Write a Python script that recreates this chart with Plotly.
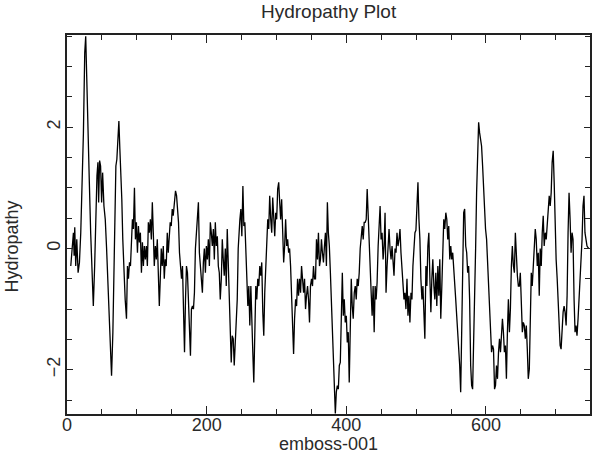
import plotly.graph_objects as go

# Residue positions and hydropathy values
residue = [
    5.4, 7.3, 9.2, 10.2, 11.1, 12.5, 14.0, 15.9, 17.8, 19.7, 21.6, 23.5, 25.4, 26.8, 28.2, 30.1, 32.0, 33.9, 35.8, 37.7,
    39.6, 41.5, 42.9, 44.3, 45.3, 46.7, 48.1, 49.6, 51.0, 52.9, 54.8, 56.7, 58.6, 60.5, 62.4, 63.8, 65.7, 67.1, 68.6, 70.0,
    71.4, 72.8, 74.3, 75.7, 77.1, 78.5, 79.9, 81.4, 83.3, 85.2, 86.6, 88.0, 89.5, 90.9, 92.3, 93.7, 95.1, 96.6, 98.0, 99.4,
    100.9, 102.3, 103.7, 105.1, 106.6, 108.0, 109.4, 110.8, 112.2, 113.7, 115.1, 116.5, 117.9, 119.4, 120.8, 122.2,
    123.6, 125.0, 126.5, 127.9, 129.3, 130.7, 132.2, 133.6, 135.0, 136.4, 137.9, 139.3, 140.7, 142.1, 143.6, 145.0,
    146.4, 147.8, 149.3, 150.7, 152.1, 153.5, 155.4, 156.9, 158.3, 159.7, 161.1, 162.6, 164.0, 165.4, 166.8, 168.3,
    169.7, 171.1, 172.5, 174.0, 175.4, 176.8, 178.2, 179.7, 181.1, 182.5, 183.9, 185.4, 186.8, 188.2, 189.6, 191.1,
    192.5, 193.9, 195.3, 196.7, 198.2, 199.6, 201.0, 202.4, 203.9, 205.3, 206.7, 208.1, 209.6, 211.0, 212.4, 213.8,
    215.3, 216.7, 218.1, 219.5, 221.0, 222.4, 223.8, 225.2, 226.7, 228.1, 229.5, 230.9, 232.4, 233.8, 235.2, 236.6,
    238.1, 239.5, 240.9, 242.3, 243.8, 245.2, 246.6,
    247.6, 249.0, 250.4, 251.9, 253.3, 254.7, 256.1, 257.6, 259.0, 260.4, 261.8, 263.3, 264.7, 266.1, 267.5, 269.0,
    270.4, 271.8, 273.2, 274.7, 276.1, 277.5, 278.9, 280.4, 281.8, 283.2, 284.6, 286.1, 287.5, 288.9, 290.3, 291.8,
    293.2, 294.6, 296.0, 297.5, 298.9, 300.3, 301.7, 303.2, 304.6, 306.0, 307.4, 308.9, 310.3, 311.7, 313.1, 314.6,
    316.0, 317.4, 318.8, 320.2, 321.7, 323.1, 324.5, 325.9, 327.4, 328.8, 330.2, 331.6, 333.1, 334.5, 335.9, 337.3,
    338.8, 340.2, 341.6, 343.0, 344.5, 345.9, 347.3, 348.7, 350.2, 351.6, 353.0, 354.4, 355.9, 357.3, 358.7, 360.1,
    361.6, 363.0, 364.4, 365.8, 367.3, 368.7, 370.1, 371.5,
    372.9, 374.3, 375.7, 377.2, 378.6, 380.0, 381.4, 382.9, 384.3, 385.7, 387.1, 388.6, 390.0, 391.4, 392.8, 394.3,
    395.7, 397.1, 398.5, 400.0, 401.4, 402.8, 404.2, 405.7, 407.1, 408.5, 409.9, 411.4, 412.8, 414.2, 415.6, 417.1,
    418.5, 419.9, 421.3, 422.8, 424.2, 425.6, 427.0, 428.5, 429.9, 431.3, 432.7, 434.2, 435.6, 437.0, 438.4, 439.9,
    441.3, 442.7, 444.1, 445.6, 447.0, 448.4, 449.8, 451.2, 452.7, 454.1, 455.5, 456.9, 458.4, 459.8, 461.2, 462.6,
    464.1, 465.5, 466.9, 468.3, 469.8, 471.2, 472.6, 474.0, 475.5, 476.9, 478.3, 479.7, 481.2, 482.6, 484.0, 485.4,
    486.9, 488.3, 489.7, 491.1, 492.6, 494.0, 495.4, 496.8,
    498.3, 499.7, 501.1, 502.6, 504.0, 505.4, 506.8, 508.3, 509.7, 511.1, 512.5, 514.0, 515.4, 516.8, 518.2, 519.7,
    521.1, 522.5, 523.9, 525.4, 526.8, 528.2, 529.6, 531.1, 532.5, 533.9, 535.3, 536.8, 538.2, 539.6, 541.0, 542.5,
    543.9, 545.3, 546.7, 548.2, 549.6, 551.0, 552.4, 553.9, 555.3, 556.7, 558.1, 559.6, 561.0, 562.4, 563.8, 565.3,
    566.7, 568.1, 569.5, 571.0, 572.4, 573.8, 575.2, 576.6, 578.1, 579.5, 580.9, 582.3, 583.8, 585.2, 586.6, 588.0,
    589.5, 590.9, 592.3, 593.7, 595.2, 596.6, 598.0, 599.4, 600.9, 602.3, 603.7, 605.1, 606.6, 608.0, 609.4, 610.8,
    612.3, 613.7, 615.1, 616.5, 618.0, 619.4, 620.8, 622.2,
    623.6, 625.0, 626.4, 627.9, 629.3, 630.7, 632.1, 633.6, 635.0, 636.4, 637.8, 639.3, 640.7, 642.1, 643.5, 645.0,
    646.4, 647.8, 649.2, 650.7, 652.1, 653.5, 654.9, 656.4, 657.8, 659.2, 660.6, 662.1, 663.5, 664.9, 666.3, 667.8,
    669.2, 670.6, 672.0, 673.5, 674.9, 676.3, 677.7, 679.2, 680.6, 682.0, 683.4, 684.9, 686.3, 687.7, 689.1, 690.6,
    692.0, 693.4, 694.8, 696.3, 697.7, 699.1, 700.5, 702.0, 703.4, 704.8, 706.2, 707.6, 709.1, 710.5, 711.9, 713.3,
    714.8, 716.2, 717.6, 719.0, 720.5, 721.9, 723.3, 724.7, 726.2, 727.6, 729.0, 730.4, 731.9, 733.3, 734.7, 736.1,
    737.6, 739.0, 740.4, 741.8, 743.3, 744.7, 747.0,
]

hydropathy = [
    -0.29, 0.04, 0.26, -0.12, 0.35, -0.29, 0.15, -0.40, -0.23, 0.26, 0.98, 1.90, 3.23, 3.50, 2.85, 2.13, 1.09, 0.26, -0.29, -0.95,
    -0.29, 0.70, 1.20, 1.42, 0.76, 1.45, 1.36, 0.76, 1.25, 0.70, 0.48, 0.00, -0.56, -1.05, -1.49, -2.10, -1.38, -0.40, 0.54, 1.36,
    1.47, 1.75, 2.10, 1.64, 1.25, 0.81, 0.15, -0.40, -0.84, -1.16, -0.29, -0.50, -0.23, -0.29, 0.15, 0.48, 0.32, 1.00, 0.15, 0.43,
    -0.07, 0.37, 0.10, 0.26, -0.40, 0.10, -0.29, 0.04, -0.18, 0.04, -0.29, 0.43, 0.26, 0.48, 0.15, 0.76,
    0.26, -0.29, 0.04, -0.18, 0.15, -0.29, -0.95, -0.50, 0.00, -0.29, 0.04, -0.50, -0.18, -0.29, 0.26, -0.07,
    0.32, 0.43, 0.37, 0.65, 0.54, 0.76, 0.95, 0.87, 0.70, 0.43, -0.07, -0.29, -0.50, -0.29, -1.11, -1.71,
    -0.84, -0.29, -0.40, -0.84, -1.38, -1.77, -1.00, -0.95, -1.00, -0.73, 0.00, 0.26, 0.48, 0.76, -0.07, -0.29,
    -0.62, -0.73, -0.23, 0.00, -0.40, 0.04, -0.18, 0.15, -0.29, 0.43, 0.26, 0.04, 0.32, -0.18, 0.43, 0.04,
    0.20, -0.29, -0.40, -0.84, -0.50, 0.15, -0.18, -0.45, 0.00, -0.62, 0.32, -0.18, -0.62, -1.38, -1.88, -1.44,
    -1.49, -1.93, -1.49, -1.38, -0.84, 0.00, 0.48,
    0.48, 0.65, 0.20, 1.03, 0.37, 0.43, 0.04, -0.40, -0.95, -0.62, -1.27, -0.62, -1.38, -1.71, -2.21, -1.38,
    -0.62, -0.84, -0.50, -0.62, -0.29, -0.45, -0.23, -1.05, -1.44, -0.73, -0.29, 0.20, 0.48, 0.32, 0.87, 0.48,
    0.26, 0.84, 0.59, 0.20, 0.59, 0.48, 0.98, 1.09, 0.76, 0.48, 0.81, 0.15, -0.23, 0.04, 0.48, 0.04,
    0.15, -0.07, 0.00, -0.29, -0.95, -1.55, -1.74, -1.16, -0.84, -0.95, -0.50, -0.78, -0.50, -0.73, -0.29, -0.50,
    -0.73, -0.50, -1.00, -0.78, -0.62, -0.84, -1.22, -0.62, -0.50, -0.62, -0.29, -0.50, -0.50, 0.15, -0.18, 0.26,
    -0.29, -0.18, 0.15, -0.07, -0.23, 0.04, 0.26, -0.29,
    0.76, 0.26, 0.04, -0.40, -0.89, -1.05, -1.60, -2.10, -2.72, -2.37, -2.26, -2.32, -1.93, -1.88, -1.11, -0.40,
    -1.11, -0.84, -1.22, -1.11, -1.55, -1.38, -2.21, -1.38, -0.50, -0.95, -1.16, -0.73, -0.62, -0.84, -0.50, -0.62,
    -0.40, 0.00, 0.26, 0.37, 0.15, 0.43, 0.43, 0.48, 0.98, 0.48, 0.00, -0.29, -0.73, -1.11, -0.62, -1.38,
    -0.62, -0.84, -0.56, 0.04, 0.37, 0.70, 0.15, 0.26, -0.18, 0.04, 0.59, -0.73, -0.29, 0.15, 0.32, 0.00,
    -0.18, 0.04, -0.18, -0.45, 0.00, -0.07, 0.26, 0.04, 0.15, 0.32, -0.07, -0.40, -0.73, -0.84, -0.73, -1.00,
    -0.50, -1.11, -0.78, -1.22, -0.73, -0.84, -0.29, 0.00,
    0.26, 0.30, 0.75, 1.09, 0.48, 0.15, -0.50, -0.84, -0.62, -1.22, -1.49, -0.29, -0.62, 0.04, 0.26, -0.50,
    -1.05, -0.50, -0.18, -0.62, -0.84, -0.40, -0.95, -0.29, -0.78, -0.18, -1.16, -0.62, 0.04, 0.48, 0.32, 0.59,
    0.48, 0.15, 0.37, -0.18, 0.04, -0.18, -0.07, -0.29, -0.62, -0.84, -1.11, -1.38, -1.66, -1.93, -2.37, -1.38,
    -0.29, 0.59, 0.65, 0.04, -0.07, -0.40, -0.29, -0.84, -1.93, -2.26, -2.32, -1.71, -0.84, 0.00, 0.92, 1.58,
    2.08, 1.91, 1.74, 1.69, 1.36, 0.98, 0.48, 0.32, 0.15, -0.18, -0.62, -1.05, -1.38, -1.71, -1.60, -1.66,
    -2.32, -2.26, -1.93, -2.15, -1.71, -1.49, -1.71, -1.38,
    -1.16, -1.38, -1.71, -1.60, -2.15, -1.38, -0.84, -1.38, -1.00, -0.29, 0.04, -0.29, -0.40, 0.26, -0.18, -0.45,
    -0.62, -0.62, -0.40, -0.84, -1.38, -1.22, -1.27, -1.49, -1.27, -1.66, -2.15, -1.99, -1.11, -0.40, -0.62, -0.29,
    -0.07, 0.32, 0.15, -0.29, -0.07, -0.78, 0.00, -0.29, 0.26, 0.54, 0.04, 0.26, 0.15, 0.37, 0.59, 0.87,
    0.70, 0.92, 1.42, 1.61, 1.09, 0.26, -0.18, -0.50, -0.95, -1.27, -1.60, -1.66, -1.27, -1.05, -0.95, -1.05,
    -1.27, -0.78, 0.26, 0.92, 0.48, -0.07, 0.26, 0.15, -0.84, -1.38, -1.27, -1.44, -1.16, -0.84, -0.50, -0.23,
    0.15, 0.70, 0.87, 0.26, 0.15, 0.04, 0.00,
]

title_text = "Hydropathy Plot"
x_label = "emboss-001"
y_label = "Hydropathy"
x_range = [0, 749]
y_range = [-2.73, 3.52]

FONT = "Liberation Sans"
TXT = "#2a2a2a"

fig = go.Figure()
fig.add_trace(go.Scatter(
    x=residue, y=hydropathy, mode="lines",
    line=dict(color="black", width=1.3),
    hoverinfo="skip", showlegend=False,
))

axis_common = dict(
    showgrid=False, zeroline=False,
    showline=True, linecolor="#222", linewidth=1.5, mirror="ticks",
    ticks="inside", tickcolor="#222", tickwidth=1.2,
    tickfont=dict(family=FONT, size=18, color=TXT),
)

fig.update_xaxes(
    range=x_range, tickmode="linear", tick0=0, dtick=200, ticklen=8,
    ticklabelstandoff=-6,
    minor=dict(dtick=50, ticks="inside", ticklen=5, tickcolor="#222", tickwidth=1.2),
    **axis_common,
)
fig.update_yaxes(
    range=y_range, tickmode="linear", tick0=0, dtick=2, ticklen=6, tickangle=-90,
    ticklabelstandoff=-2,
    minor=dict(dtick=0.5, ticks="inside", ticklen=5, tickcolor="#222", tickwidth=1.2),
    **axis_common,
)

fig.add_annotation(text=title_text, xref="paper", yref="paper", x=0.5, y=1,
                   yshift=24, yanchor="middle", showarrow=False,
                   font=dict(family=FONT, size=19, color=TXT))
fig.add_annotation(text=x_label, xref="paper", yref="paper", x=0.5, y=0,
                   yshift=-30, yanchor="middle", showarrow=False,
                   font=dict(family=FONT, size=18, color=TXT))
fig.add_annotation(text=y_label, xref="paper", yref="paper", x=0, y=0.5,
                   xshift=-56, yshift=-22, xanchor="center", yanchor="middle", textangle=-90,
                   showarrow=False, font=dict(family=FONT, size=18, color=TXT))

fig.update_layout(
    width=595, height=458,
    margin=dict(l=67, r=3, t=35, b=44),
    paper_bgcolor="white", plot_bgcolor="white",
)

fig.write_html("out.html")
